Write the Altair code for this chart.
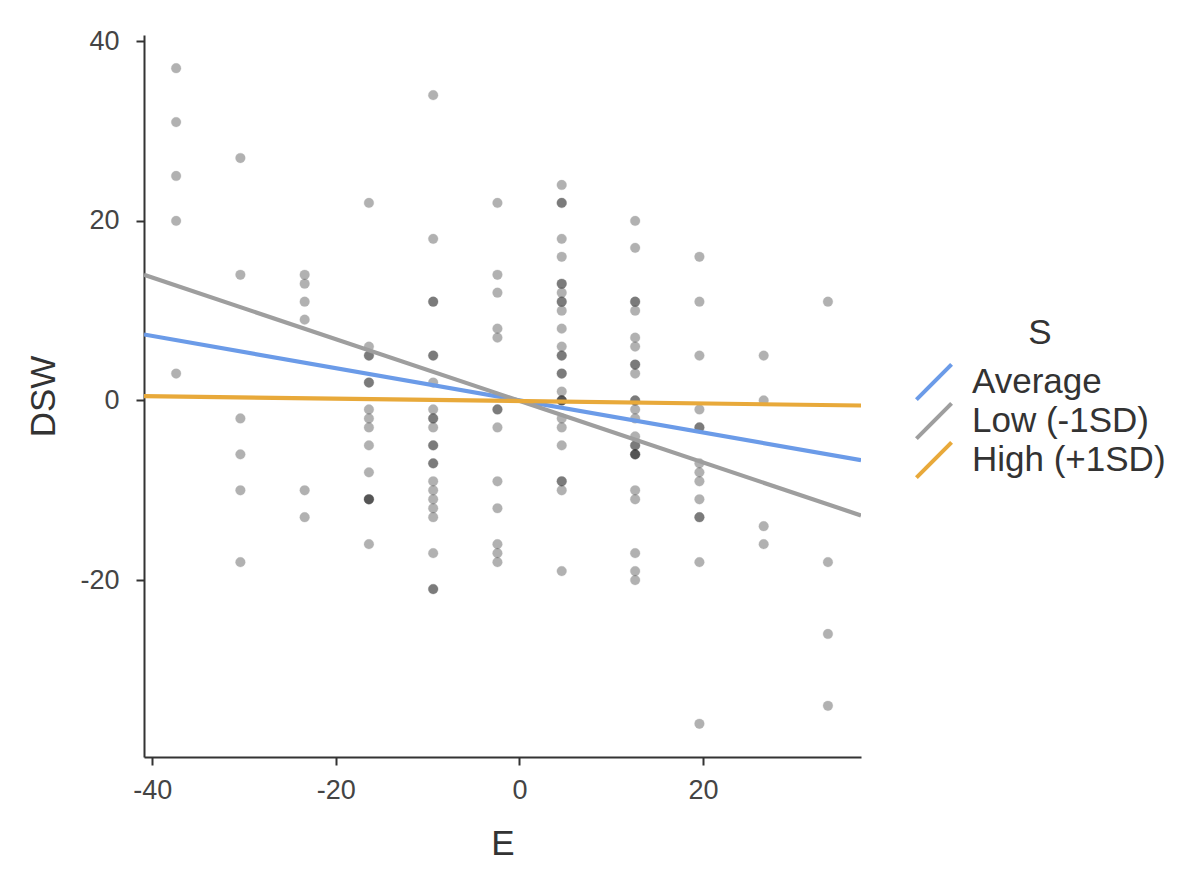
import altair as alt
import pandas as pd

# E levels (x positions of the point columns)
e_levels = [-37.4, -30.4, -23.4, -16.4, -9.4, -2.4, 4.6, 12.6, 19.6, 26.6, 33.6]

# DSW values read for each E column (repeats = overlapping points)
dsw_col1 = [37, 31, 25, 20, 3]
dsw_col2 = [27, 14, -2, -6, -10, -18]
dsw_col3 = [14, 13, 11, 9, -10, -13]
dsw_col4 = [22, 6, 5, 5, 2, 2, -1, -2, -3, -5, -8, -11, -11, -11, -16]
dsw_col5 = [34, 18, 11, 11, 5, 5, 2, -1, -2, -2, -3, -5, -5, -7, -7, -9, -10,
            -11, -12, -13, -17, -21, -21]
dsw_col6 = [22, 14, 12, 8, 7, -1, -1, -3, -9, -12, -16, -17, -18]
dsw_col7 = [24, 22, 22, 18, 16, 13, 13, 12, 11, 11, 10, 8, 6, 5, 5, 3, 3, 1,
            0, 0, 0, -2, -3, -5, -9, -9, -10, -19]
dsw_col8 = [20, 17, 11, 11, 10, 7, 6, 4, 4, 3, 0, 0, -1, -2, -4, -5, -5, -6,
            -6, -6, -10, -11, -17, -19, -20]
dsw_col9 = [16, 11, 5, -1, -3, -3, -7, -8, -9, -11, -13, -13, -18, -36]
dsw_col10 = [5, 0, -14, -16]
dsw_col11 = [11, -18, -26, -34]

dsw_cols = [dsw_col1, dsw_col2, dsw_col3, dsw_col4, dsw_col5, dsw_col6,
            dsw_col7, dsw_col8, dsw_col9, dsw_col10, dsw_col11]

# simple slopes: end points at the edges of the plot
line_e = [-40.9, 37.2]
avg_dsw = [7.35, -6.65]
low_dsw = [14.0, -12.8]
high_dsw = [0.48, -0.56]

groups = ["Average", "Low (-1SD)", "High (+1SD)"]
colors = ["#6B9BE8", "#9E9E9E", "#E8A93A"]

pts = pd.DataFrame(
    [(e, d) for e, col in zip(e_levels, dsw_cols) for d in col],
    columns=["E", "DSW"],
)

lines = pd.DataFrame({
    "E": line_e * 3,
    "DSW": avg_dsw + low_dsw + high_dsw,
    "S": [groups[0]] * 2 + [groups[1]] * 2 + [groups[2]] * 2,
    "order": [0, 0, 1, 1, 2, 2],
})

x_scale = alt.Scale(domain=[-40.9, 37.2], nice=False, zero=False)
y_scale = alt.Scale(domain=[-39.7, 40.7], nice=False, zero=False)
s_scale = alt.Scale(domain=groups, range=colors)

# plain hyphen for negative tick labels, as in the original
hyphen = "datum.value < 0 ? '-' + abs(datum.value) : '' + datum.value"

# legend key: a thin filled diagonal bar
diag_key = "M-1,0.85L0.85,-1L1,-0.85L-0.85,1Z"

s_legend = alt.Legend(
    title="S",
    orient="none",
    legendX=771,
    legendY=281,
    padding=0,
    titleAnchor="middle",
    titleFontSize=35,
    titleFontWeight="normal",
    titleColor="#333333",
    titlePadding=12,
    labelFontSize=35,
    labelColor="#333333",
    labelOffset=19,
    labelLimit=400,
    symbolType=diag_key,
    symbolSize=1444,
    symbolStrokeWidth=0,
    rowPadding=1,
)

points = alt.Chart(pts).mark_circle(
    size=95, color="black", opacity=0.3, stroke="black", strokeWidth=0.8, strokeOpacity=0.35
).encode(
    x=alt.X("E:Q", scale=x_scale,
            axis=alt.Axis(values=[-40, -20, 0, 20], title="E", labelExpr=hyphen)),
    y=alt.Y("DSW:Q", scale=y_scale,
            axis=alt.Axis(values=[-20, 0, 20, 40], title="DSW", labelExpr=hyphen)),
)

slopes = alt.Chart(lines).mark_line(strokeWidth=4.2, clip=True).encode(
    x=alt.X("E:Q", scale=x_scale),
    y=alt.Y("DSW:Q", scale=y_scale),
    stroke=alt.Stroke("S:N", scale=s_scale, sort=groups, legend=s_legend),
    fill=alt.Fill("S:N", scale=s_scale, sort=groups, legend=s_legend),
    detail="order:O",
)

chart = (
    alt.layer(points, slopes)
    .properties(
        width=717,
        height=722,
        autosize=alt.AutoSizeParams(type="none"),
        padding={"left": 136, "top": 27, "right": 312, "bottom": 107},
    )
    .configure(font="Liberation Sans")
    .configure_view(stroke=None)
    .configure_axis(
        grid=False,
        domainColor="#333333",
        domainWidth=2,
        tickColor="#333333",
        tickWidth=2,
        tickSize=8,
        labelFontSize=27,
        labelColor="#444444",
        titleFontSize=35,
        titleFontWeight="normal",
        titleColor="#333333",
    )
    .configure_axisX(labelPadding=12, titlePadding=23)
    .configure_axisY(labelPadding=17, titlePadding=18)
)

chart.save("out.html", embed_options={"renderer": "svg", "actions": False})
